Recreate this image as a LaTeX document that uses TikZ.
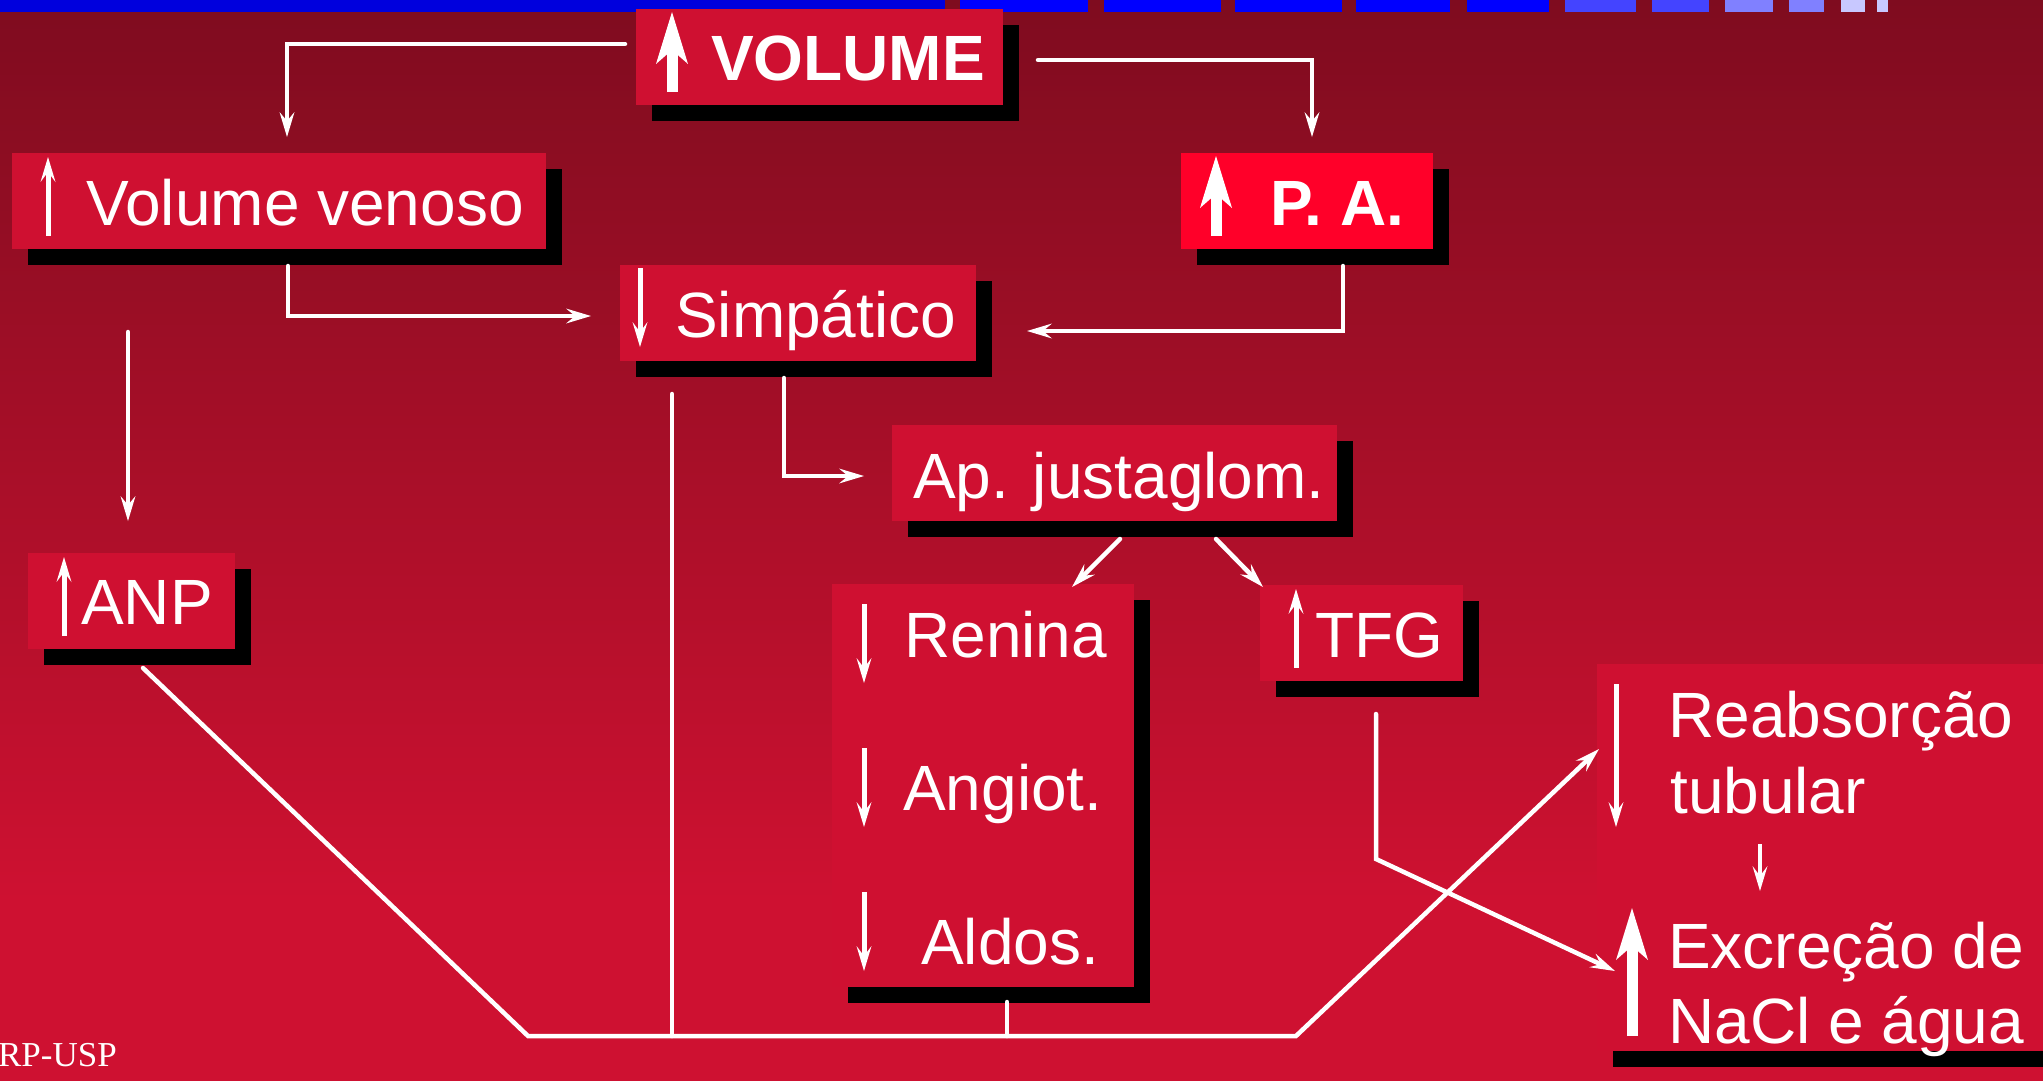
\documentclass[tikz,border=0pt]{standalone}
\usepackage{fontspec}
\setmainfont{Liberation Sans}
\newfontfamily\rpfont{Liberation Serif}
\usetikzlibrary{arrows.meta,shadows}
\definecolor{bgtop}{RGB}{127,12,31}
\definecolor{bgbot}{RGB}{206,17,49}
\definecolor{boxred}{RGB}{207,16,49}
\definecolor{pared}{RGB}{255,0,41}
\definecolor{barA}{RGB}{0,0,221}
\definecolor{barB}{RGB}{0,0,255}
\definecolor{barC}{RGB}{68,68,255}
\definecolor{barD}{RGB}{128,128,255}
\definecolor{barE}{RGB}{200,200,255}
\begin{document}
\begin{tikzpicture}[x=1pt,y=-1pt,
  redbox/.style={fill=boxred, draw=none, inner sep=0pt,
    drop shadow={shadow xshift=16pt,shadow yshift=-16pt,fill=black,opacity=1}},
  lbl/.style={text=white, inner sep=0pt, anchor=base west, font=\fontsize{64}{76}\selectfont},
  blbl/.style={text=white, inner sep=0pt, anchor=base west, font=\fontsize{64}{76}\selectfont\bfseries},
  cline/.style={draw=white, line width=4.5pt, line cap=round},
  conn/.style={cline, -{Stealth[length=25pt,width=15pt,inset=9pt,line width=0pt]}},
  thinarr/.style={draw=white, line width=5pt, -{Stealth[length=25pt,width=15pt,inset=10pt,line width=0pt]}},
  thickarr/.style={draw=white, line width=11pt, -{Stealth[length=52pt,width=32pt,inset=14pt,line width=0pt]}}
]
\useasboundingbox (0,0) rectangle (2043,1081);
\clip (0,0) rectangle (2043,1081);

% background
\shade[top color=bgtop, bottom color=bgbot] (0,0) rectangle (2043,900);
\fill[bgbot] (0,899) rectangle (2043,1081);

% top bar
\fill[barA] (0,0) rectangle (945,12);
\fill[barB] (960,0) rectangle (1088,12);
\fill[barB] (1104,0) rectangle (1221,12);
\fill[barB] (1235,0) rectangle (1342,12);
\fill[barB] (1356,0) rectangle (1450,12);
\fill[barB] (1467,0) rectangle (1549,12);
\fill[barC] (1565,0) rectangle (1636,12);
\fill[barC] (1652,0) rectangle (1709,12);
\fill[barD] (1725,0) rectangle (1773,12);
\fill[barD] (1789,0) rectangle (1824,12);
\fill[barE] (1841,0) rectangle (1865,12);
\fill[barE] (1877,0) rectangle (1888,12);

% boxes
\node[redbox, minimum width=367pt, minimum height=96pt] (vol) at (819.5,57) {};
\node[redbox, minimum width=534pt, minimum height=96pt] (vv) at (279,201) {};
\node[redbox, fill=pared, minimum width=252pt, minimum height=96pt] (pa) at (1307,201) {};
\node[redbox, minimum width=356pt, minimum height=96pt] (simp) at (798,313) {};
\node[redbox, minimum width=445pt, minimum height=96pt] (ap) at (1114.5,473) {};
\node[redbox, minimum width=302pt, minimum height=403pt] (ren) at (983,785.5) {};
\node[redbox, minimum width=203pt, minimum height=96pt] (tfg) at (1361.5,633) {};
\node[redbox, minimum width=207pt, minimum height=96pt] (anp) at (131.5,600.5) {};
\node[redbox, minimum width=473pt, minimum height=387pt] (reab) at (1833.5,857.5) {};

% connector end points
\coordinate (a1) at (625,44);   \coordinate (a1t) at (287,137);
\coordinate (a2) at (1038,60);  \coordinate (a2t) at (1312,137);
\coordinate (a3) at (288,266);  \coordinate (a3t) at (591,316);
\coordinate (a4) at (1343,266); \coordinate (a4t) at (1027,331);
\coordinate (a5) at (128,332);  \coordinate (a5t) at (128,521);
\coordinate (a6) at (784,378);  \coordinate (a6t) at (864,476);
\coordinate (a7) at (1120,539); \coordinate (a7t) at (1072,587);
\coordinate (a8) at (1216,539); \coordinate (a8t) at (1263,587);
\coordinate (a9) at (1376,714); \coordinate (a9m) at (1376,859); \coordinate (a9t) at (1615,971);
\coordinate (b1) at (143,668);  \coordinate (b2) at (528,1036);
\coordinate (b3) at (672,1036); \coordinate (b4) at (1007,1036);
\coordinate (b5) at (1296,1036); \coordinate (b6) at (1599,749);
\coordinate (s1) at (672,394);  \coordinate (r1) at (1007,1002);

% connectors
\draw[conn] (a1) -| (a1t);
\draw[conn] (a2) -| (a2t);
\draw[conn] (a3) |- (a3t);
\draw[conn] (a4) |- (a4t);
\draw[conn] (a5) -- (a5t);
\draw[conn] (a6) |- (a6t);
\draw[conn] (a7) -- (a7t);
\draw[conn] (a8) -- (a8t);
\draw[conn] (a9) -- (a9m) -- (a9t);
\draw[conn] (b1) -- (b2) -- (b3) -- (b4) -- (b5) -- (b6);
\draw[cline] (s1) -- (b3);
\draw[cline] (r1) -- (b4);

% indicator arrows
\draw[thickarr] (672,92) -- (672,12);
\draw[thinarr] (48,236) -- (48,157);
\draw[thickarr] (1216,236) -- (1216,156);
\draw[thinarr] (640,268) -- (640,347);
\draw[thinarr] (864,604) -- (864,683);
\draw[thinarr] (864,748) -- (864,827);
\draw[thinarr] (864,892) -- (864,971);
\draw[thinarr] (1296,668) -- (1296,589);
\draw[thinarr] (64,636) -- (64,557);
\draw[thinarr] (1616,684) -- (1616,827);
\draw[thinarr, line width=4pt] (1760,844) -- (1760,891);
\draw[thickarr] (1632,1036) -- (1632,908);

% texts
\node[blbl] (tvol) at (711,81) {VOLUME};
\node[lbl] (tvv) at (86,225) {Volume venoso};
\node[blbl] (tpa) at (1270,225) {P. A.};
\node[lbl] (tsimp) at (675,337) {Simpático};
\node[lbl] (tap) at (913,498) {Ap. justaglom.};
\node[lbl] (tren) at (904,657) {Renina};
\node[lbl] (tang) at (903,810) {Angiot.};
\node[lbl] (tald) at (921,964) {Aldos.};
\node[lbl] (ttfg) at (1315,657) {TFG};
\node[lbl] (tanp) at (81,624) {ANP};
\node[lbl] (treab1) at (1668,737) {Reabsorção};
\node[lbl] (treab2) at (1670,813) {tubular};
\node[lbl] (texc1) at (1668,968) {Excreção de};
\node[lbl] (texc2) at (1668,1043) {NaCl e água};
\node[anchor=base east, inner sep=0pt, text=white, font=\rpfont\fontsize{35}{40}\selectfont] (rp) at (117,1066) {RP-USP};
\end{tikzpicture}
\end{document}
